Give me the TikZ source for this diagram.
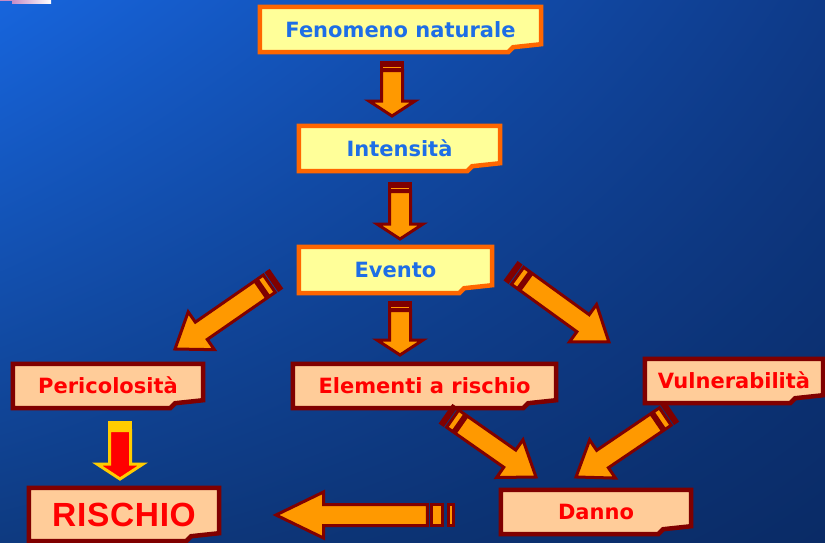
\documentclass[tikz,border=0pt]{standalone}
\usepackage{fontspec}
\setmainfont{Liberation Sans}
\newfontfamily\boxfont{DejaVu Sans}
\usetikzlibrary{calc, backgrounds, shadings}

\definecolor{boxyellow}{HTML}{FFFF99}
\definecolor{boxorange}{HTML}{FF6600}
\definecolor{textblue}{HTML}{1E6EE6}
\definecolor{boxpeach}{HTML}{FFCC99}
\definecolor{darkred}{HTML}{800000}
\definecolor{textred}{HTML}{FF0000}
\definecolor{arroworange}{HTML}{FF9900}
\definecolor{arrowgold}{HTML}{FFCC00}
\definecolor{bgul}{HTML}{1765DD}
\definecolor{bgur}{HTML}{0E3A88}
\definecolor{bgll}{HTML}{0E3A80}
\definecolor{bglr}{HTML}{0A2B66}

% striped block arrow: [style]{tail}{tip}{head length}
\newcommand{\fatarrow}[4][]{%
  \pgfmathanglebetweenpoints{\pgfpointanchor{#2}{center}}{\pgfpointanchor{#3}{center}}%
  \let\fatangle\pgfmathresult
  \pgfpointdiff{\pgfpointanchor{#2}{center}}{\pgfpointanchor{#3}{center}}%
  \pgfgetlastxy{\fatdx}{\fatdy}%
  \pgfmathsetmacro{\fatlen}{veclen(\fatdx,\fatdy)}%
  \begin{scope}[shift={(#2)}, rotate=\fatangle, x=1pt, y=1pt]
    \filldraw[fatarrow, #1] ({0.58*#4},-10.5) -- ({\fatlen-#4},-10.5) -- ({\fatlen-#4},-23)
      -- (\fatlen,0) -- ({\fatlen-#4},23) -- ({\fatlen-#4},10.5) -- ({0.58*#4},10.5) -- cycle;
    \filldraw[fatarrow, #1, fatstripe] ({0.255*#4},-10.5) rectangle ({0.49*#4},10.5);
    \filldraw[fatarrow, #1, fatstripe] ({0.03*#4},-10.5) rectangle ({0.13*#4},10.5);
  \end{scope}}

\begin{document}
\begin{tikzpicture}[x=1pt, y=-1pt,
    yelbox/.style={fill=boxyellow, draw=boxorange, line width=4.5pt},
    peachbox/.style={fill=boxpeach, draw=darkred, line width=4.5pt},
    yelnode/.style={inner sep=0pt, text=textblue, font=\boxfont\bfseries\fontsize{21}{24}\selectfont, text height=15pt, text depth=0pt},
    peachnode/.style={inner sep=0pt, text=textred, font=\boxfont\bfseries\fontsize{21}{24}\selectfont, text height=15pt, text depth=0pt},
    fatarrow/.style={fill=arroworange, draw=darkred, line width=3pt, line join=miter},
    fatstripe/.style={},
    goldarrow/.style={fill=textred, draw=arrowgold, fatstripe/.style={fill=arrowgold}}
]
    \useasboundingbox (0,0) rectangle (825,542);

    % Boxes
    \node[yelnode, minimum width=281pt, minimum height=45pt] (fen) at (400.5,29.5) {Fenomeno naturale};
    \node[yelnode, minimum width=201pt, minimum height=45pt] (int) at (399.5,148.5) {Intensità};
    \node[yelnode, minimum width=193pt, minimum height=46pt] (eve) at (395.5,270) {Evento};

    \node[peachnode, minimum width=190pt, minimum height=44pt] (per) at (108,386) {Pericolosità};
    \node[peachnode, minimum width=263pt, minimum height=44pt] (ele) at (424.5,386) {Elementi a rischio};
    \node[peachnode, minimum width=178pt, minimum height=44pt] (vul) at (734,381) {Vulnerabilità};
    \node[peachnode, minimum width=190pt, minimum height=44pt] (dan) at (596,512) {Danno};
    \node[peachnode, minimum width=190pt, minimum height=53pt, text height=24pt,
          font=\bfseries\fontsize{33.5}{36}\selectfont\addfontfeatures{LetterSpace=2}] (ris) at (124,514.5) {RISCHIO};

    \begin{scope}[on background layer]
        \shade[upper left=bgul, upper right=bgur, lower left=bgll, lower right=bglr] (0,0) rectangle (825,542);
        \shade[left color=violet!45, right color=white] (12,0) rectangle (51,3);
        \fill[violet!45] (0,0) rectangle (12,1);
        \foreach \n/\s in {fen/yelbox, int/yelbox, eve/yelbox, per/peachbox, ele/peachbox, vul/peachbox, dan/peachbox, ris/peachbox}
            \draw[\s] (\n.north west) -- (\n.north east) -- ([yshift=8pt]\n.south east)
                -- ([xshift=-28pt, yshift=5pt]\n.south east) -- ([xshift=-33pt]\n.south east)
                -- (\n.south west) -- cycle;
    \end{scope}

    % Arrow ends
    \coordinate (fi-tail) at (392,62);   \coordinate (fi-tip) at (392,116);
    \coordinate (ie-tail) at (400,183);  \coordinate (ie-tip) at (400,239);
    \coordinate (ee-tail) at (400,302);  \coordinate (ee-tip) at (400,355);
    \coordinate (ep-tail) at (276,279);  \coordinate (ep-tip) at (175,349);
    \coordinate (ev-tail) at (511,271);  \coordinate (ev-tip) at (609,342);
    \coordinate (ed-tail) at (446,414);  \coordinate (ed-tip) at (536,477);
    \coordinate (vd-tail) at (672,412);  \coordinate (vd-tip) at (576,477);
    \coordinate (dr-tail) at (455,515);  \coordinate (dr-tip) at (276,515);
    \coordinate (pr-tail) at (120,422);  \coordinate (pr-tip) at (120,479);

    % Arrows
    \fatarrow{fi-tail}{fi-tip}{15}
    \fatarrow{ie-tail}{ie-tip}{15}
    \fatarrow{ee-tail}{ee-tip}{15}
    \fatarrow{ep-tail}{ep-tip}{32}
    \fatarrow{ev-tail}{ev-tip}{32}
    \fatarrow{ed-tail}{ed-tip}{32}
    \fatarrow{vd-tail}{vd-tip}{32}
    \fatarrow{dr-tail}{dr-tip}{47.5}
    \fatarrow[goldarrow]{pr-tail}{pr-tip}{15}

\end{tikzpicture}
\end{document}
